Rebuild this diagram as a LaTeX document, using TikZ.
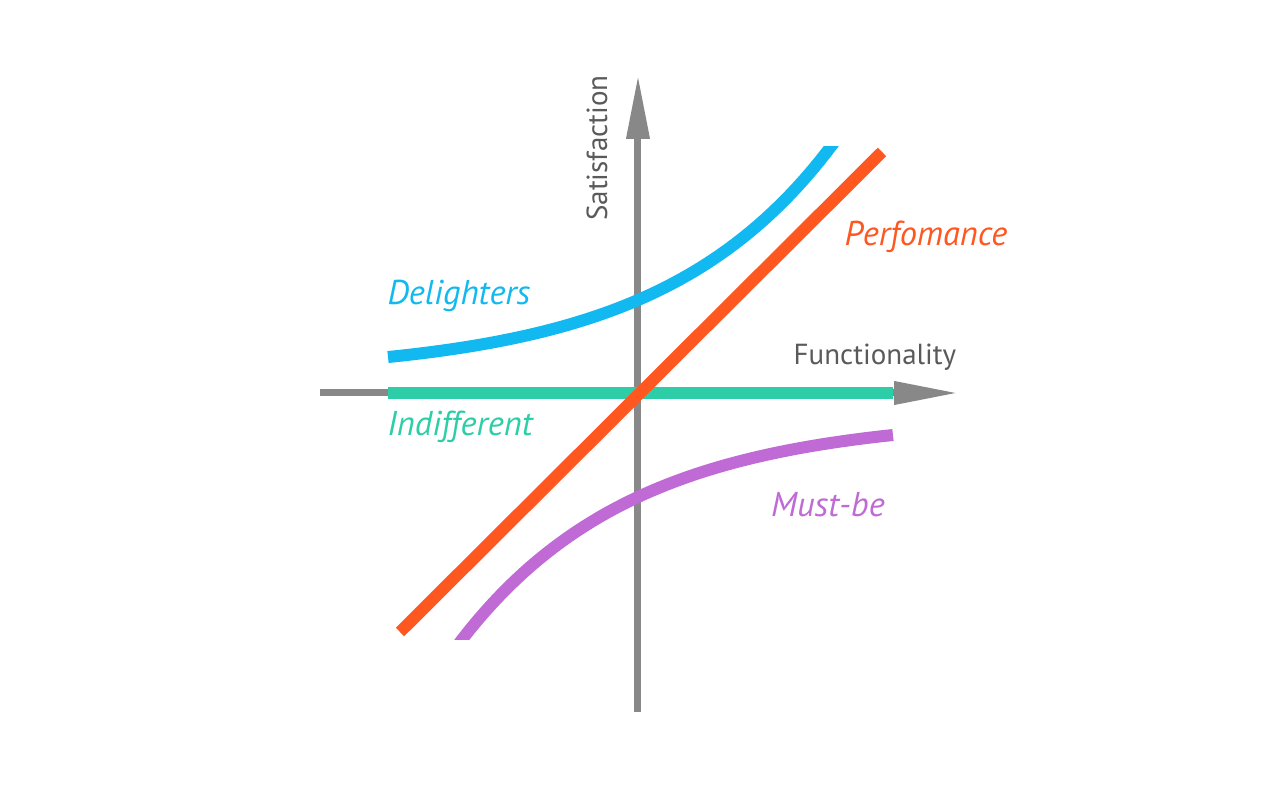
\documentclass[tikz,border=0pt]{standalone}
\usepackage{fontspec}
\setmainfont{PT Sans}
\usepackage{xcolor}
\usepackage{tikz}
\usetikzlibrary{arrows.meta}

\definecolor{axisgray}{HTML}{888888}
\definecolor{textgray}{HTML}{5A5A5A}
\definecolor{delightblue}{HTML}{12B9F0}
\definecolor{perfred}{HTML}{FF5720}
\definecolor{indiffgreen}{HTML}{2DCEA7}
\definecolor{mustpurple}{HTML}{C06AD6}

\begin{document}
\begin{tikzpicture}[
    axis/.style={axisgray, line width=0.14cm, -{Triangle[length=1.28cm,width=0.44cm]}},
    curve/.style={line width=0.24cm},
    lbl/.style={font=\fontsize{19.6}{23}\selectfont\itshape},
    axlbl/.style={textgray, font=\fontsize{16.5}{20}\selectfont}
  ]
    \useasboundingbox (-12.76,-7.88) rectangle (12.84,7.86);

    % axes
    \draw[axis] (-6.36,0) -- (6.4,0);
    \draw[axis] (0,-6.38) -- (0,6.36);
    \node[axlbl] (func) at (4.74,0.72) {Functionality};
    \node[axlbl, rotate=90] (satis) at (-0.82,4.9) {Satisfaction};

    % Indifferent
    \draw[curve, indiffgreen] (-5.0,0) -- (5.1,0);
    \node[lbl, indiffgreen] (indiff) at (-3.56,-0.68) {Indifferent};

    \begin{scope}
    \clip (-7,-4.94) rectangle (7,4.92);
    % Must-be
    \draw[curve, mustpurple] plot[domain=-3.8:5.1, samples=60] (\x, {-0.474-1.606*exp(-0.29*\x)});
    % Delighters
    \draw[curve, delightblue] plot[domain=-5.0:4.1, samples=60] (\x, {0.37+1.489*exp(0.29*\x)});
    \end{scope}
    \node[lbl, mustpurple] (must) at (3.8,-2.24) {Must-be};
    \node[lbl, delightblue] (delight) at (-3.58,1.94) {Delighters};

    % Perfomance
    \draw[curve, perfred] (-4.76,-4.78) -- (4.88,4.82);
    \node[lbl, perfred] (perf) at (5.76,3.12) {Perfomance};
\end{tikzpicture}
\end{document}
